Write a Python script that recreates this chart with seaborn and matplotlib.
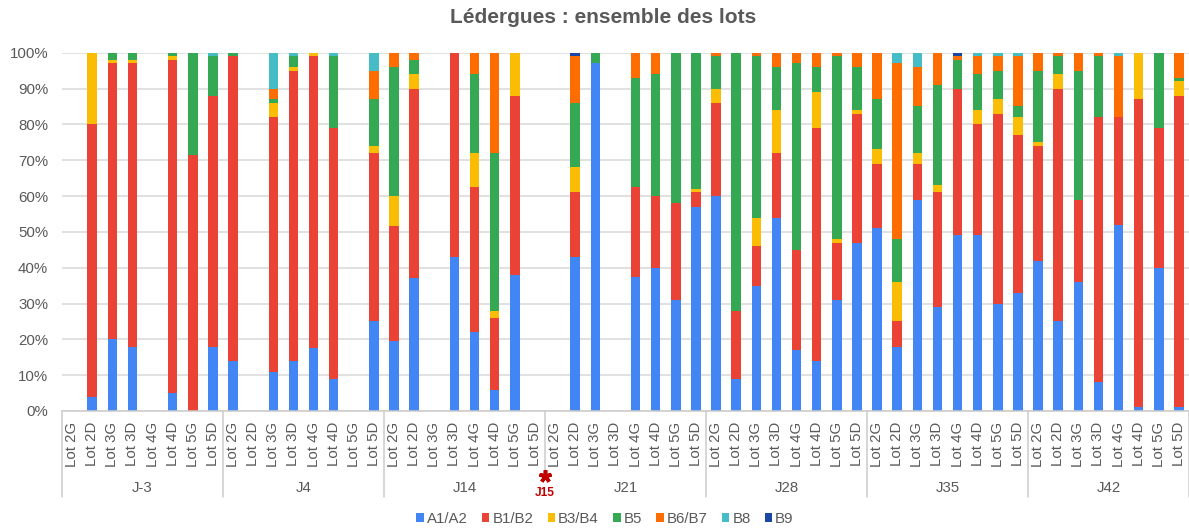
import numpy as np
import pandas as pd
import matplotlib
matplotlib.use("Agg")
import matplotlib.pyplot as plt
import seaborn as sns
from matplotlib.patches import Patch

# ---------------- data ----------------
groups = ["J-3", "J4", "J14", "J21", "J28", "J35", "J42"]
lots = ["Lot 2G", "Lot 2D", "Lot 3G", "Lot 3D", "Lot 4G", "Lot 4D", "Lot 5G", "Lot 5D"]
series_names = ["A1/A2", "B1/B2", "B3/B4", "B5", "B6/B7", "B8", "B9"]
colors = ["#4285F4", "#EA4335", "#FBBC04", "#34A853", "#FF6D01", "#46BDC6", "#1A47A3"]

a1_a2 = [0, 4, 20, 18, 0, 5, 0, 18,
         14, 0, 11, 14, 17.5, 9, 0, 25,
         19.5, 37, 0, 43, 22, 6, 38, 0,
         0, 43, 97, 0, 37.5, 40, 31, 57,
         60, 9, 35, 54, 17, 14, 31, 47,
         51, 18, 59, 29, 49, 49, 30, 33,
         42, 25, 36, 8, 52, 1, 40, 1]
b1_b2 = [0, 76, 77, 79, 0, 93, 71.5, 70,
         85, 0, 71, 81, 81.5, 70, 0, 47,
         32, 53, 0, 57, 40.5, 20, 50, 0,
         0, 18, 0, 0, 25, 20, 27, 4,
         26, 19, 11, 18, 28, 65, 16, 36,
         18, 7, 10, 32, 41, 31, 53, 44,
         32, 65, 23, 74, 30, 86, 39, 87]
b3_b4 = [0, 20, 1, 1, 0, 1, 0, 0,
         0, 0, 4, 1, 1, 0, 0, 2,
         8.5, 4, 0, 0, 9.5, 2, 12, 0,
         0, 7, 0, 0, 0, 0, 0, 1,
         4, 0, 8, 12, 0, 10, 1, 1,
         4, 11, 3, 2, 0, 4, 4, 5,
         1, 4, 0, 0, 0, 13, 0, 4]
b5 = [0, 0, 2, 2, 0, 1, 28.5, 11,
      1, 0, 1, 3, 0, 20, 0, 13,
      36, 4, 0, 0, 22, 44, 0, 0,
      0, 18, 3, 0, 30.5, 34, 42, 38,
      9, 72, 45, 12, 52, 7, 51, 12,
      14, 12, 13, 28, 8, 10, 8, 3,
      20, 5, 36, 17, 0, 0, 21, 1]
b6_b7 = [0, 0, 0, 0, 0, 0, 0, 0,
         0, 0, 3, 0, 0, 0, 0, 8,
         4, 2, 0, 0, 6, 28, 0, 0,
         0, 13, 0, 0, 7, 6, 0, 0,
         1, 0, 1, 4, 3, 4, 1, 4,
         13, 49, 11, 9, 1, 5, 4, 14,
         5, 1, 5, 1, 17, 0, 0, 7]
b8 = [0, 0, 0, 0, 0, 0, 0, 1,
      0, 0, 10, 1, 0, 1, 0, 5,
      0, 0, 0, 0, 0, 0, 0, 0,
      0, 0, 0, 0, 0, 0, 0, 0,
      0, 0, 0, 0, 0, 0, 0, 0,
      0, 3, 4, 0, 0, 1, 1, 1,
      0, 0, 0, 0, 1, 0, 0, 0]
b9 = [0, 0, 0, 0, 0, 0, 0, 0,
      0, 0, 0, 0, 0, 0, 0, 0,
      0, 0, 0, 0, 0, 0, 0, 0,
      0, 1, 0, 0, 0, 0, 0, 0,
      0, 0, 0, 0, 0, 0, 0, 0,
      0, 0, 0, 0, 1, 0, 0, 0,
      0, 0, 0, 0, 0, 0, 0, 0]
marker_between = ("J14", "J21")
marker_label = "J15"
title = "Lédergues : ensemble des lots"

# ---------------- figure ----------------
sns.set_theme(style="white")
plt.rcParams["font.family"] = ["Liberation Sans", "DejaVu Sans"]
TXT = "#595959"

W, H = 1189, 528
fig = plt.figure(figsize=(W / 100, H / 100), dpi=100)
ax_left, ax_bottom, ax_top = 62, 411, 52.7
ax = fig.add_axes([ax_left / W, (H - ax_bottom) / H, (W - ax_left) / W, (ax_bottom - ax_top) / H])

keys = [f"{g}|{l}" for g in groups for l in lots]
values = np.array([a1_a2, b1_b2, b3_b4, b5, b6_b7, b8, b9], dtype=float)
cum = np.cumsum(values, axis=0)
df = pd.DataFrame({"key": keys})
for i, name in enumerate(series_names):
    df[name] = cum[i]

for i in reversed(range(len(series_names))):
    sns.barplot(data=df, x="key", y=series_names[i], order=keys, color=colors[i],
                width=0.47, saturation=1, errorbar=None, ax=ax, linewidth=0)

n = len(keys)
ax.set_xlim(-0.5, n - 0.5)
ax.set_ylim(0, 100)
ax.set_yticks(np.arange(0, 101, 10))
ax.set_yticklabels([f"{v}%" for v in range(0, 101, 10)], fontsize=10.8, color=TXT)
ax.set_xticks(range(n))
ax.set_xticklabels(lots * len(groups), rotation=90, fontsize=10.8, color=TXT)
ax.tick_params(axis="x", length=0, pad=8)
ax.tick_params(axis="y", length=0, pad=10)
ax.set_xlabel("")
ax.set_ylabel("")
ax.yaxis.grid(True, color="#d9d9d9", linewidth=1.1)
ax.set_axisbelow(True)
for s in ["top", "right", "left"]:
    ax.spines[s].set_visible(False)
ax.spines["bottom"].set_color("#cccccc")
ax.spines["bottom"].set_linewidth(1.1)

# group separators and labels
trans = ax.get_xaxis_transform()
axh = ax_bottom - ax_top
def yfrac(py):
    return (ax_bottom - py) / axh

nl = len(lots)
marker_x = (groups.index(marker_between[0]) + 1) * nl - 0.5
for gi in range(len(groups) + 1):
    bx = gi * nl - 0.5
    ybot = yfrac(470) if abs(bx - marker_x) < 1e-9 else yfrac(497)
    ax.plot([bx, bx], [0, ybot], color="#cccccc", lw=1.1, transform=trans, clip_on=False)
for gi, g in enumerate(groups):
    ax.text(gi * nl + (nl - 1) / 2, yfrac(488), g, transform=trans, ha="center", va="center",
            fontsize=10.8, color=TXT)

ax.plot([marker_x], [yfrac(475.5)], marker=(5, 2, 0), markersize=9, mew=2.6,
        color="#C00000", transform=trans, clip_on=False)
ax.text(marker_x, yfrac(492.5), marker_label, transform=trans, ha="center", va="center",
        fontsize=8.6, fontweight="bold", color="#C00000")

fig.text(603.5 / W, 1 - 17.5 / H, title, ha="center", va="center", fontsize=15,
         fontweight="bold", color=TXT)

handles = [Patch(facecolor=c, edgecolor="none") for c in colors]
fig.legend(handles, series_names, loc="center", bbox_to_anchor=(605 / W, 1 - 519 / H), ncol=7,
           frameon=False, handlelength=0.5, handleheight=0.5, handletextpad=0.2,
           columnspacing=0.95, fontsize=10.8, labelcolor=TXT, borderpad=0)

fig.savefig("out.png", dpi=100)
